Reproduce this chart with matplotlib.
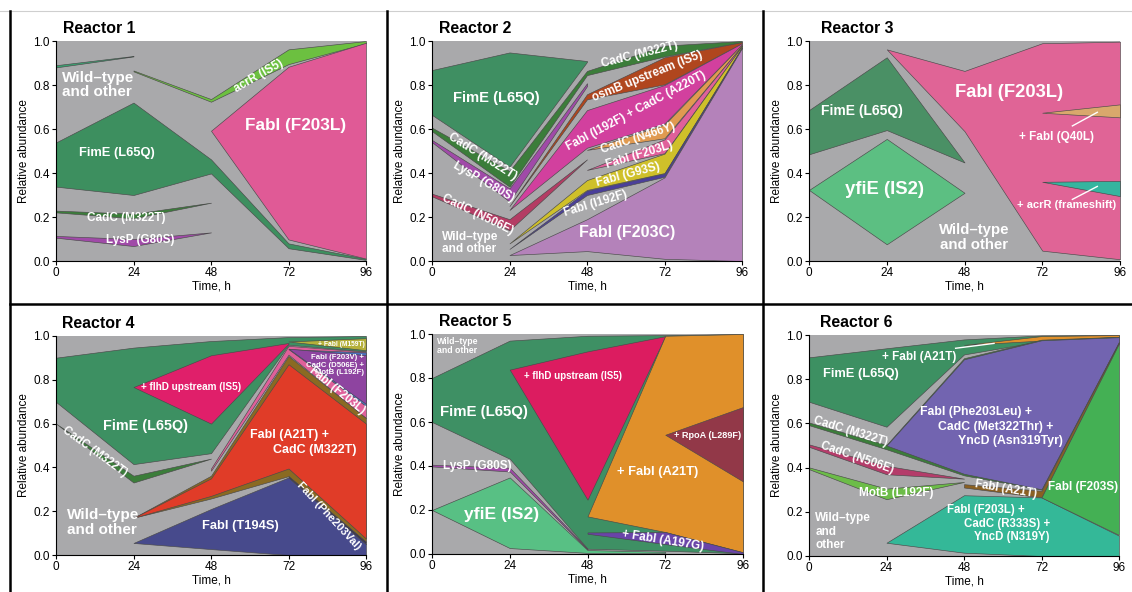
import matplotlib
matplotlib.use('Agg')
import matplotlib.pyplot as plt
from matplotlib.lines import Line2D

plt.rcParams['font.family'] = ['Liberation Sans', 'DejaVu Sans']

HOURS = [0, 24, 48, 72, 96]
YTICKS = [0.0, 0.2, 0.4, 0.6, 0.8, 1.0]
TITLES = ['Reactor 1', 'Reactor 2', 'Reactor 3', 'Reactor 4', 'Reactor 5', 'Reactor 6']

# clone = (key, times, lower bound, upper bound), drawn in list order
R1_CLONES = [
    ('sliver', [0, 24], [0.880, 0.930], [0.890, 0.932]),
    ('acrR', [24, 48, 72, 96], [0.862, 0.724, 0.895, 0.990], [0.866, 0.736, 0.962, 1.000]),
    ('fimE', [0, 24, 48, 72, 96], [0.338, 0.300, 0.398, 0.058, 0.005], [0.539, 0.720, 0.462, 0.080, 0.010]),
    ('cadC', [0, 24, 48], [0.221, 0.194, 0.265], [0.229, 0.215, 0.265]),
    ('lysP', [0, 24, 48], [0.106, 0.068, 0.130], [0.114, 0.100, 0.130]),
    ('fabI_F203L', [48, 72, 96], [0.592, 0.098, 0.011], [0.592, 0.883, 0.992]),
]

R2_CLONES = [
    ('fimE', [0, 24, 48], [0.664, 0.429, 0.905], [0.868, 0.948, 0.909]),
    ('cadC', [0, 24, 48, 72, 96], [0.590, 0.338, 0.845, 0.930, 0.995], [0.606, 0.409, 0.864, 0.979, 1.000]),
    ('lysP', [0, 24, 48], [0.540, 0.270, 0.795], [0.550, 0.330, 0.808]),
    ('osmB', [24, 48, 72, 96], [0.250, 0.735, 0.803, 0.990], [0.250, 0.758, 0.926, 0.995]),
    ('fabI_I192F_cadC', [24, 48, 72, 96], [0.232, 0.515, 0.625, 0.985], [0.232, 0.686, 0.800, 0.990]),
    ('cadC_N466Y', [48, 72, 96], [0.505, 0.558, 0.980], [0.505, 0.620, 0.985]),
    ('cadC_N506E', [0, 24, 48], [0.294, 0.140, 0.462], [0.306, 0.190, 0.462]),
    ('fabI_F203L', [48, 72, 96], [0.414, 0.490, 0.978], [0.414, 0.553, 0.980]),
    ('fabI_G93S', [24, 48, 72, 96], [0.080, 0.323, 0.400, 0.972], [0.080, 0.368, 0.488, 0.978]),
    ('fabI_I192F', [24, 48, 72, 96], [0.055, 0.300, 0.383, 0.968], [0.055, 0.320, 0.398, 0.972]),
    ('fabI_F203C', [24, 48, 72, 96], [0.027, 0.045, 0.010, 0.000], [0.027, 0.190, 0.380, 0.968]),
]

R3_CLONES = [
    ('fimE', [0, 24, 48], [0.485, 0.595, 0.448], [0.686, 0.926, 0.448]),
    ('yfiE', [0, 24, 48], [0.323, 0.076, 0.310], [0.323, 0.555, 0.310]),
    ('fabI_F203L', [24, 48, 72, 96], [0.962, 0.590, 0.047, 0.008], [0.962, 0.864, 0.990, 0.997]),
    ('fabI_Q40L', [72, 96], [0.674, 0.653], [0.674, 0.712]),
    ('acrR', [72, 96], [0.360, 0.295], [0.360, 0.364]),
]

R4_CLONES = [
    ('fimE', [0, 24, 48, 72, 96], [0.699, 0.415, 0.465, 0.960, 0.930], [0.901, 0.947, 0.977, 0.995, 1.000]),
    ('fabI_M159T', [72, 96], [0.975, 0.935], [0.975, 0.990]),
    ('flhD', [24, 48, 72], [0.767, 0.600, 0.965], [0.767, 0.912, 0.968]),
    ('cadC', [0, 24, 48], [0.600, 0.331, 0.440], [0.600, 0.362, 0.440]),
    ('fabI_F203L', [48, 72, 96], [0.385, 0.915, 0.625], [0.395, 0.955, 0.928]),
    ('blue', [72, 96], [0.940, 0.680], [0.940, 0.925]),
    ('fabI_F203V', [72, 96], [0.942, 0.690], [0.942, 0.913]),
    ('fabI_A21T', [24, 48, 72, 96], [0.170, 0.258, 0.360, 0.060], [0.170, 0.362, 0.909, 0.625]),
    ('fabI_A21T_cadC', [24, 48, 72, 96], [0.170, 0.270, 0.395, 0.075], [0.170, 0.350, 0.871, 0.600]),
    ('fabI_T194S', [24, 48, 72, 96], [0.055, 0.027, 0.000, 0.000], [0.055, 0.210, 0.354, 0.050]),
    ('fabI_F203V_dark', [72, 96], [0.354, 0.050], [0.360, 0.060]),
]

R5_CLONES = [
    ('fimE', [0, 24, 48, 72, 96], [0.600, 0.433, 0.024, 0.015, 0.003], [0.800, 0.970, 0.992, 0.995, 1.000]),
    ('lysP', [0, 24, 48], [0.398, 0.375, 0.020], [0.406, 0.392, 0.024]),
    ('yfiE', [0, 24, 48, 72], [0.200, 0.027, 0.005, 0.005], [0.200, 0.348, 0.018, 0.010]),
    ('flhD', [24, 48, 72], [0.838, 0.247, 0.990], [0.838, 0.921, 0.990]),
    ('fabI_A21T', [48, 72, 96], [0.171, 0.100, 0.008], [0.171, 0.992, 1.000]),
    ('rpoA', [72, 96], [0.542, 0.330], [0.542, 0.668]),
    ('fabI_A197G', [48, 72, 96], [0.092, 0.045, 0.000], [0.098, 0.100, 0.008]),
]

R6_CLONES = [
    ('fimE', [0, 24, 48, 72, 96], [0.698, 0.585, 0.912, 0.972, 0.992], [0.899, 0.940, 0.980, 0.998, 1.000]),
    ('fabI_A21T_top', [48, 72, 96], [0.955, 0.975, 0.992], [0.955, 0.995, 1.000]),
    ('cadC', [0, 24, 48, 72, 96], [0.592, 0.483, 0.365, 0.300, 0.965], [0.604, 0.503, 0.895, 0.979, 0.992]),
    ('triple', [24, 48, 72, 96], [0.500, 0.372, 0.302, 0.970], [0.500, 0.890, 0.976, 0.990]),
    ('cadC_N506E', [0, 24, 48], [0.494, 0.370, 0.350], [0.505, 0.408, 0.350]),
    ('motB', [0, 24, 48], [0.393, 0.257, 0.335], [0.401, 0.305, 0.335]),
    ('fabI_A21T', [48, 72, 96], [0.310, 0.265, 0.962], [0.325, 0.295, 0.968]),
    ('teal', [24, 48, 72, 96], [0.060, 0.015, 0.000, 0.000], [0.060, 0.275, 0.265, 0.092]),
    ('fabI_F203S', [72, 96], [0.265, 0.095], [0.265, 0.962]),
]

BG = '#a9a9ab'
COLORS = [
    {'sliver': '#3aa070', 'acrR': '#6cc040', 'fimE': '#3d8f5f', 'cadC': '#3b7d3a',
     'lysP': '#a04aa8', 'fabI_F203L': '#e05a96'},
    {'fimE': '#3f8f62', 'cadC': '#3b7d3a', 'lysP': '#a04aa8', 'osmB': '#b0461e',
     'fabI_I192F_cadC': '#d2409e', 'cadC_N466Y': '#e09a50', 'cadC_N506E': '#b43c64',
     'fabI_F203L': '#e0609a', 'fabI_G93S': '#cfc02a', 'fabI_I192F': '#4a3f9a',
     'fabI_F203C': '#b482ba'},
    {'fimE': '#4a9065', 'yfiE': '#5cbf82', 'fabI_F203L': '#e06496', 'fabI_Q40L': '#d9a86c',
     'acrR': '#35b59f'},
    {'fimE': '#3d9062', 'fabI_M159T': '#b5b03a', 'flhD': '#e01f6a', 'cadC': '#3b7d3a',
     'fabI_F203L': '#e0609a', 'blue': '#4a70c0', 'fabI_F203V': '#8e44a0',
     'fabI_A21T': '#8a6a22', 'fabI_A21T_cadC': '#e03c28', 'fabI_T194S': '#474a8c',
     'fabI_F203V_dark': '#3a3050'},
    {'fimE': '#3e9064', 'lysP': '#a04aa8', 'yfiE': '#58c084', 'flhD': '#dc1c60',
     'fabI_A21T': '#e0902a', 'rpoA': '#923848', 'fabI_A197G': '#6a44a8'},
    {'fimE': '#3d9062', 'fabI_A21T_top': '#e0902a', 'cadC': '#3b7d3a', 'triple': '#7264b0',
     'cadC_N506E': '#b43c6a', 'motB': '#6cbc48', 'fabI_A21T': '#8a6022', 'teal': '#34b898',
     'fabI_F203S': '#44b054'},
]

W, H = 1132, 592
fig = plt.figure(figsize=(W / 100, H / 100), dpi=100)

# axes boxes in pixels: left, top, right, bottom
BOXES = [(56, 41, 366, 261), (432, 41, 742, 261), (809, 41, 1120, 261),
         (56, 336, 366, 555), (432, 334, 743, 554), (809, 335, 1119, 556)]
TITLE_DX = [7, 7, 12, 6, 7, 11]

axes = []
for i, (l, t, r, b) in enumerate(BOXES):
    ax = fig.add_axes([l / W, 1 - b / H, (r - l) / W, (b - t) / H])
    ax.set_facecolor(BG)
    ax.set_xlim(0, 96)
    ax.set_ylim(0, 1)
    ax.set_xticks(HOURS)
    ax.set_yticks(YTICKS)
    ax.set_yticklabels([f'{v:.1f}' for v in YTICKS])
    ax.tick_params(direction='out', length=3, width=0.8, labelsize=8.5, pad=1.5)
    for s in ['top', 'right']:
        ax.spines[s].set_visible(False)
    for s in ['left', 'bottom']:
        ax.spines[s].set_linewidth(0.8)
    ax.set_xlabel('Time, h', fontsize=8.5, labelpad=1)
    ax.set_ylabel('Relative abundance', fontsize=8.5, labelpad=2)
    ax.text(TITLE_DX[i] / (r - l), 1 + 8 / (b - t), TITLES[i], transform=ax.transAxes,
            fontsize=11.4, fontweight='bold', ha='left', va='baseline')
    axes.append(ax)

for ax, clones, cols in zip(axes, [R1_CLONES, R2_CLONES, R3_CLONES, R4_CLONES, R5_CLONES, R6_CLONES], COLORS):
    for key, ts, lo, hi in clones:
        ax.fill_between(ts, lo, hi, facecolor=cols[key], edgecolor='#4a4a4a', linewidth=0.45, zorder=2)


def lab(ax, x, y, s, size, rot=0, ha='center', ls=1.05):
    ax.text(x, y, s, fontsize=size, fontweight='bold', color='white', ha=ha, va='center',
            rotation=rot, rotation_mode='anchor', linespacing=ls, zorder=5)


# Reactor 1
ax = axes[0]
lab(ax, 2, 0.80, 'Wild\u2013type\nand other', 11, ha='left')
lab(ax, 18.8, 0.49, 'FimE (L65Q)', 9.3)
lab(ax, 21.9, 0.194, 'CadC (M322T)', 8.5)
lab(ax, 26, 0.095, 'LysP (G80S)', 8.4)
lab(ax, 62.7, 0.84, 'acrR (IS5)', 8.4, rot=30)
lab(ax, 74.3, 0.618, 'FabI (F203L)', 12.3)

# Reactor 2
ax = axes[1]
lab(ax, 20, 0.74, 'FimE (L65Q)', 10.6)
lab(ax, 15.5, 0.475, 'CadC (M322T)', 8.5, rot=-32)
lab(ax, 16, 0.36, 'LysP (G80S)', 8.5, rot=-30)
lab(ax, 14, 0.21, 'CadC (N506E)', 8.5, rot=-26)
lab(ax, 3, 0.083, 'Wild\u2013type\nand other', 8.6, ha='left')
lab(ax, 60.3, 0.13, 'FabI (F203C)', 11.5)
lab(ax, 50.8, 0.26, 'FabI (I192F)', 8.5, rot=17)
lab(ax, 60.6, 0.394, 'FabI (G93S)', 8.5, rot=15)
lab(ax, 64.2, 0.48, 'FabI (F203L)', 8.5, rot=17)
lab(ax, 63.7, 0.56, 'CadC (N466Y)', 8.5, rot=18)
lab(ax, 63.2, 0.68, 'FabI (I192F) + CadC (A220T)', 8.5, rot=28)
lab(ax, 66.8, 0.84, 'osmB upstream (IS5)', 8.5, rot=22)
lab(ax, 64.2, 0.94, 'CadC (M322T)', 8.5, rot=14)

# Reactor 3
ax = axes[2]
lab(ax, 16.3, 0.68, 'FimE (L65Q)', 10)
lab(ax, 23.3, 0.326, 'yfiE (IS2)', 13.3)
lab(ax, 61.9, 0.767, 'FabI (F203L)', 13.2)
lab(ax, 51.1, 0.107, 'Wild\u2013type\nand other', 10.8)
lab(ax, 76.3, 0.565, '+ FabI (Q40L)', 8.5)
lab(ax, 79.4, 0.255, '+ acrR (frameshift)', 8)
ax.plot([81.3, 89], [0.614, 0.676], color='white', lw=1, zorder=4)
ax.plot([81.3, 89], [0.28, 0.339], color='white', lw=1, zorder=4)

# Reactor 4
ax = axes[3]
lab(ax, 41.7, 0.767, '+ flhD upstream (IS5)', 7.2)
lab(ax, 27.6, 0.59, 'FimE (L65Q)', 10.4)
lab(ax, 12, 0.47, 'CadC (M322T)', 8.3, rot=-36)
lab(ax, 72.2, 0.549, 'FabI (A21T) +', 9)
lab(ax, 80.2, 0.48, 'CadC (M322T)', 9)
lab(ax, 3.3, 0.149, 'Wild\u2013type\nand other', 11, ha='left')
lab(ax, 57.2, 0.134, 'FabI (T194S)', 9.3)
lab(ax, 84.4, 0.18, 'FabI (Phe203Val)', 8, rot=-47)
lab(ax, 86.9, 0.75, 'FabI (F203L)', 8.3, rot=-39)
lab(ax, 88.5, 0.962, '+ FabI (M159T)', 4.8)
lab(ax, 95.5, 0.866, 'FabI (F203V) +\nCadC (D506E) +\nMotB (L192F)', 5.6, ha='right', ls=1.1)

# Reactor 5
ax = axes[4]
lab(ax, 1.5, 0.944, 'Wild\u2013type\nand other', 6.3, ha='left')
lab(ax, 15.9, 0.644, 'FimE (L65Q)', 10.8)
lab(ax, 14, 0.40, 'LysP (G80S)', 8.5)
lab(ax, 21.6, 0.179, 'yfiE (IS2)', 12.6)
lab(ax, 43.5, 0.81, '+ flhD upstream (IS5)', 7)
lab(ax, 69.7, 0.373, '+ FabI (A21T)', 9.3)
lab(ax, 85.2, 0.538, '+ RpoA (L289F)', 6.6)
lab(ax, 71.3, 0.06, '+ FabI (A197G)', 8.5, rot=-9)

# Reactor 6
ax = axes[5]
lab(ax, 16, 0.823, 'FimE (L65Q)', 9.3)
lab(ax, 34, 0.90, '+ FabI (A21T)', 8.5)
ax.plot([45.4, 57.3], [0.94, 0.962], color='white', lw=1, zorder=4)
lab(ax, 12.9, 0.562, 'CadC (M322T)', 8.3, rot=-17)
lab(ax, 15, 0.444, 'CadC (N506E)', 8.3, rot=-19)
lab(ax, 27, 0.287, 'MotB (L192F)', 8.5)
lab(ax, 2, 0.11, 'Wild\u2013type\nand\nother', 8.5, ha='left', ls=1.15)
lab(ax, 51.8, 0.65, 'FabI (Phe203Leu) +', 8.8)
lab(ax, 57.8, 0.585, 'CadC (Met322Thr) +', 8.8)
lab(ax, 62.5, 0.52, 'YncD (Asn319Tyr)', 8.8)
lab(ax, 60.9, 0.30, 'FabI (A21T)', 8.3, rot=-9.5)
lab(ax, 85, 0.31, 'FabI (F203S)', 8.5)
lab(ax, 54.9, 0.207, 'FabI (F203L) +', 8.3)
lab(ax, 61.4, 0.147, 'CadC (R333S) +', 8.3)
lab(ax, 62.8, 0.088, 'YncD (N319Y)', 8.3)

# panel frame lines
ytop = 1 - 11 / H
fig.add_artist(Line2D([0, 1], [ytop, ytop], color='#cfcfcf', lw=0.8))
for xp in [10, 387, 763]:
    fig.add_artist(Line2D([xp / W, xp / W], [0, ytop], color='black', lw=1.8))
fig.add_artist(Line2D([10 / W, 1], [1 - 303.5 / H] * 2, color='black', lw=1.8))

fig.savefig('out.png', dpi=100)
